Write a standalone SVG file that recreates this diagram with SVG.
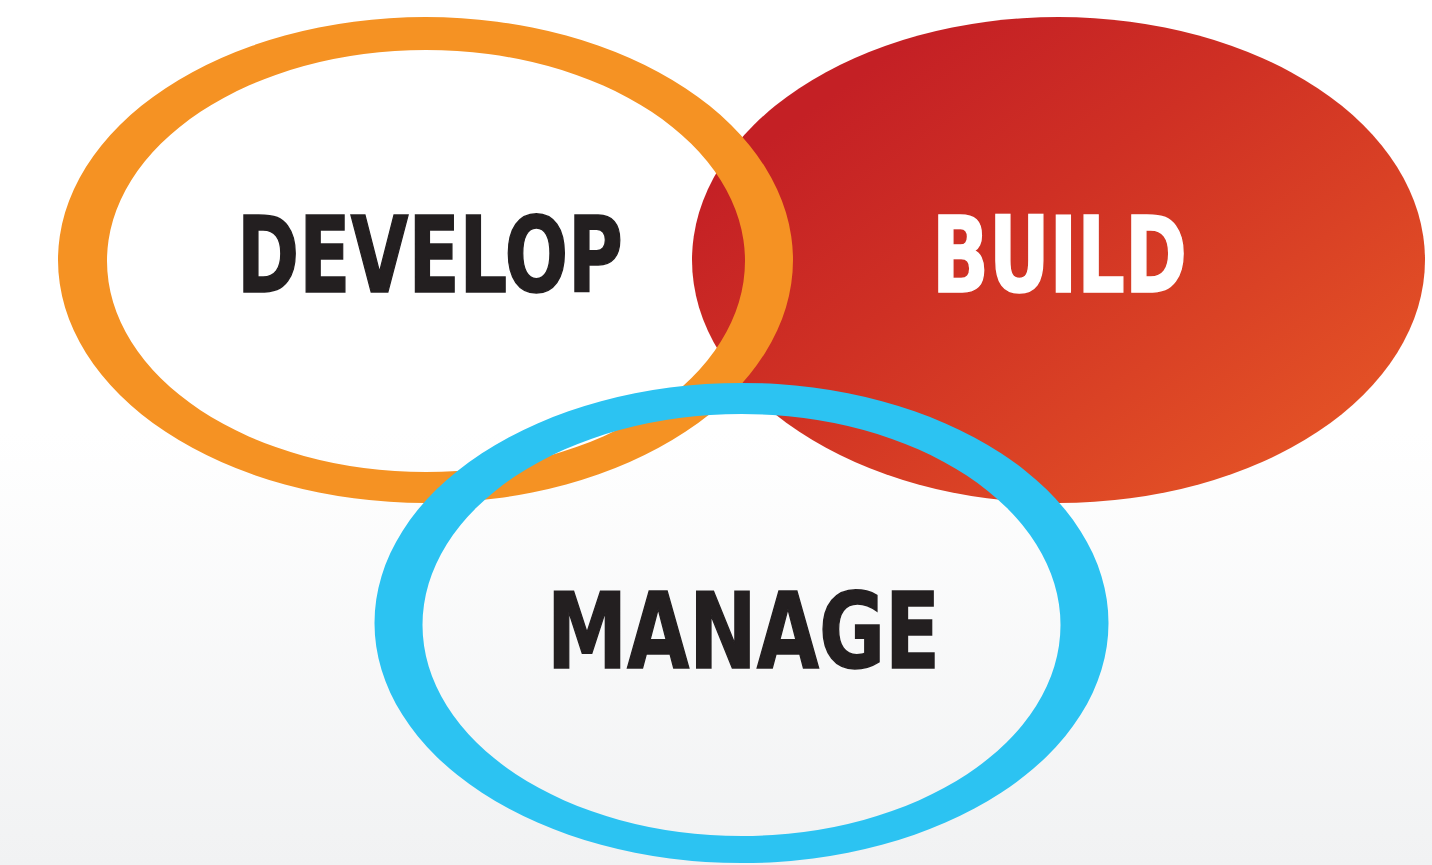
<svg xmlns="http://www.w3.org/2000/svg" width="1432" height="865" viewBox="0 0 1432 865">
  <defs>
    <linearGradient id="bg" x1="0" y1="0" x2="0" y2="1">
      <stop offset="0" stop-color="#ffffff"/>
      <stop offset="0.5" stop-color="#ffffff"/>
      <stop offset="1" stop-color="#f1f2f3"/>
    </linearGradient>
    <linearGradient id="redGrad" x1="0.2" y1="0.15" x2="0.95" y2="0.85">
      <stop offset="0" stop-color="#c42025"/>
      <stop offset="0.35" stop-color="#cf3024"/>
      <stop offset="1" stop-color="#e55426"/>
    </linearGradient>
    <style>
      .label { font-family: "DejaVu Sans Condensed", "DejaVu Sans", "Liberation Sans", sans-serif; font-stretch: condensed; font-weight: bold; font-size: 105px; stroke-width: 1.5; }
      .dark { fill: #231f20; stroke: #231f20; }
      .light { fill: #ffffff; stroke: #ffffff; }
    </style>
  </defs>
  <rect x="0" y="0" width="1432" height="865" fill="url(#bg)"/>

  <g id="build">
    <ellipse cx="1058.5" cy="260" rx="366.5" ry="243" fill="url(#redGrad)"/>
    <text class="label light" x="932" y="291.5" textLength="255" lengthAdjust="spacingAndGlyphs">BUILD</text>
  </g>

  <g id="develop">
    <path fill="#f59223" fill-rule="evenodd" d="M58,260 a367.5,243 0 1,0 735,0 a367.5,243 0 1,0 -735,0 Z M107,261 a319,211 0 1,0 638,0 a319,211 0 1,0 -638,0 Z"/>
    <text class="label dark" x="237" y="291.5" textLength="386" lengthAdjust="spacingAndGlyphs">DEVELOP</text>
  </g>

  <g id="manage">
    <path fill="#2cc3f2" fill-rule="evenodd" d="M374.5,623 a367,240 0 1,0 734,0 a367,240 0 1,0 -734,0 Z M422.5,625 a319,211 0 1,0 638,0 a319,211 0 1,0 -638,0 Z"/>
    <text class="label dark" x="547" y="667.5" textLength="393" lengthAdjust="spacingAndGlyphs">MANAGE</text>
  </g>

  <g id="connectors"/>
</svg>
